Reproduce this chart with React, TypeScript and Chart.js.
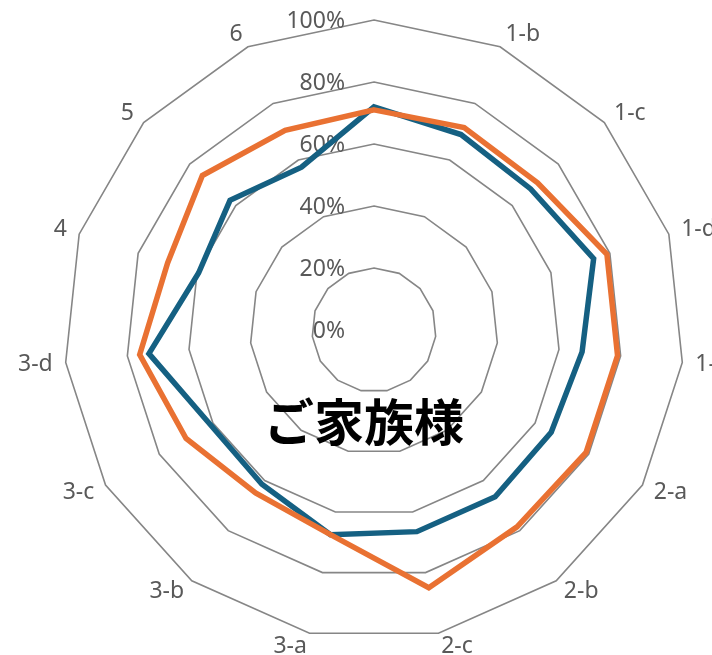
import React, { useEffect, useRef } from 'react';
import { Chart, registerables } from 'chart.js';

Chart.register(...registerables);

const CATEGORIES = ['1-a', '1-b', '1-c', '1-d', '1-e', '2-a', '2-b', '2-c', '3-a', '3-b', '3-c', '3-d', '4', '5', '6'];
const SERIES_BLUE = [72, 69, 68, 74.5, 67.5, 66, 66.5, 66.5, 67.5, 61.5, 61, 73, 59.5, 62.5, 57.5];
const SERIES_ORANGE = [71, 71.5, 71, 79, 79, 79, 78.5, 85, 67.5, 65, 70, 76, 70, 74.5, 70.5];
const TICK_VALUES = [0, 20, 40, 60, 80, 100];
const TITLE = 'ご家族様';

const FONT_FAMILY = '"Noto Sans", "DejaVu Sans", sans-serif';
const LABEL_COLOR = '#595959';

const tickLabelPlugin = {
  id: 'tickLabelsLeft',
  beforeDatasetsDraw(chart: any) {
    const r = chart.scales.r;
    const ctx = chart.ctx;
    ctx.save();
    ctx.font = `23px ${FONT_FAMILY}`;
    ctx.fillStyle = LABEL_COLOR;
    ctx.textAlign = 'right';
    ctx.textBaseline = 'middle';
    r.ticks.forEach((t: any) => {
      const d = r.getDistanceFromCenterForValue(t.value);
      ctx.fillText(t.label, r.xCenter - 29, r.yCenter - d + 1);
    });
    ctx.restore();
  },
};

export default function App() {
  const canvasRef = useRef<HTMLCanvasElement | null>(null);

  useEffect(() => {
    const canvas = canvasRef.current;
    if (!canvas) return;
    const chart = new Chart(canvas, {
      type: 'radar',
      data: {
        labels: CATEGORIES,
        datasets: [
          {
            label: 'B',
            data: SERIES_ORANGE,
            borderColor: '#E97132',
            backgroundColor: 'transparent',
            borderWidth: 5.5,
            pointRadius: 0,
            pointHoverRadius: 0,
            fill: false,
          },
          {
            label: 'A',
            data: SERIES_BLUE,
            borderColor: '#156082',
            backgroundColor: 'transparent',
            borderWidth: 5.5,
            pointRadius: 0,
            pointHoverRadius: 0,
            fill: false,
          },
        ],
      },
      options: {
        responsive: false,
        animation: false,
        devicePixelRatio: 1,
        layout: { padding: 0 },
        plugins: {
          legend: { display: false },
          title: { display: false },
          tooltip: { enabled: false },
        },
        elements: { line: { tension: 0, borderJoinStyle: 'miter' } },
        scales: {
          r: {
            min: 0,
            max: 100,
            afterBuildTicks: (scale: any) => {
              scale.ticks = TICK_VALUES.map((v) => ({ value: v }));
            },
            ticks: {
              display: false,
              stepSize: 20,
              callback: (v: any) => `${v}%`,
            },
            grid: {
              circular: false,
              color: '#868686',
              lineWidth: 1.6,
            },
            angleLines: { display: false },
            pointLabels: {
              display: true,
              color: LABEL_COLOR,
              font: { family: FONT_FAMILY, size: 23, lineHeight: '1px' },
              padding: (ctx: any) => (ctx.index === 0 ? 50 : 13),
            },
          },
        },
      },
      plugins: [tickLabelPlugin],
    });
    return () => chart.destroy();
  }, []);

  return (
    <div
      style={{
        position: 'fixed',
        left: 0,
        top: 0,
        width: 712,
        height: 655,
        overflow: 'hidden',
        background: '#ffffff',
      }}
    >
      <canvas
        ref={canvasRef}
        width={722}
        height={722}
        style={{ position: 'absolute', left: 13, top: -53, width: 722, height: 722 }}
      />
      <div
        style={{
          position: 'absolute',
          left: 364,
          top: 419,
          transform: 'translate(-50%, -50%)',
          font: 'bold 50px "Noto Sans CJK JP", sans-serif',
          lineHeight: 1,
          color: '#000000',
          whiteSpace: 'nowrap',
          pointerEvents: 'none',
        }}
      >
        {TITLE}
      </div>
    </div>
  );
}
